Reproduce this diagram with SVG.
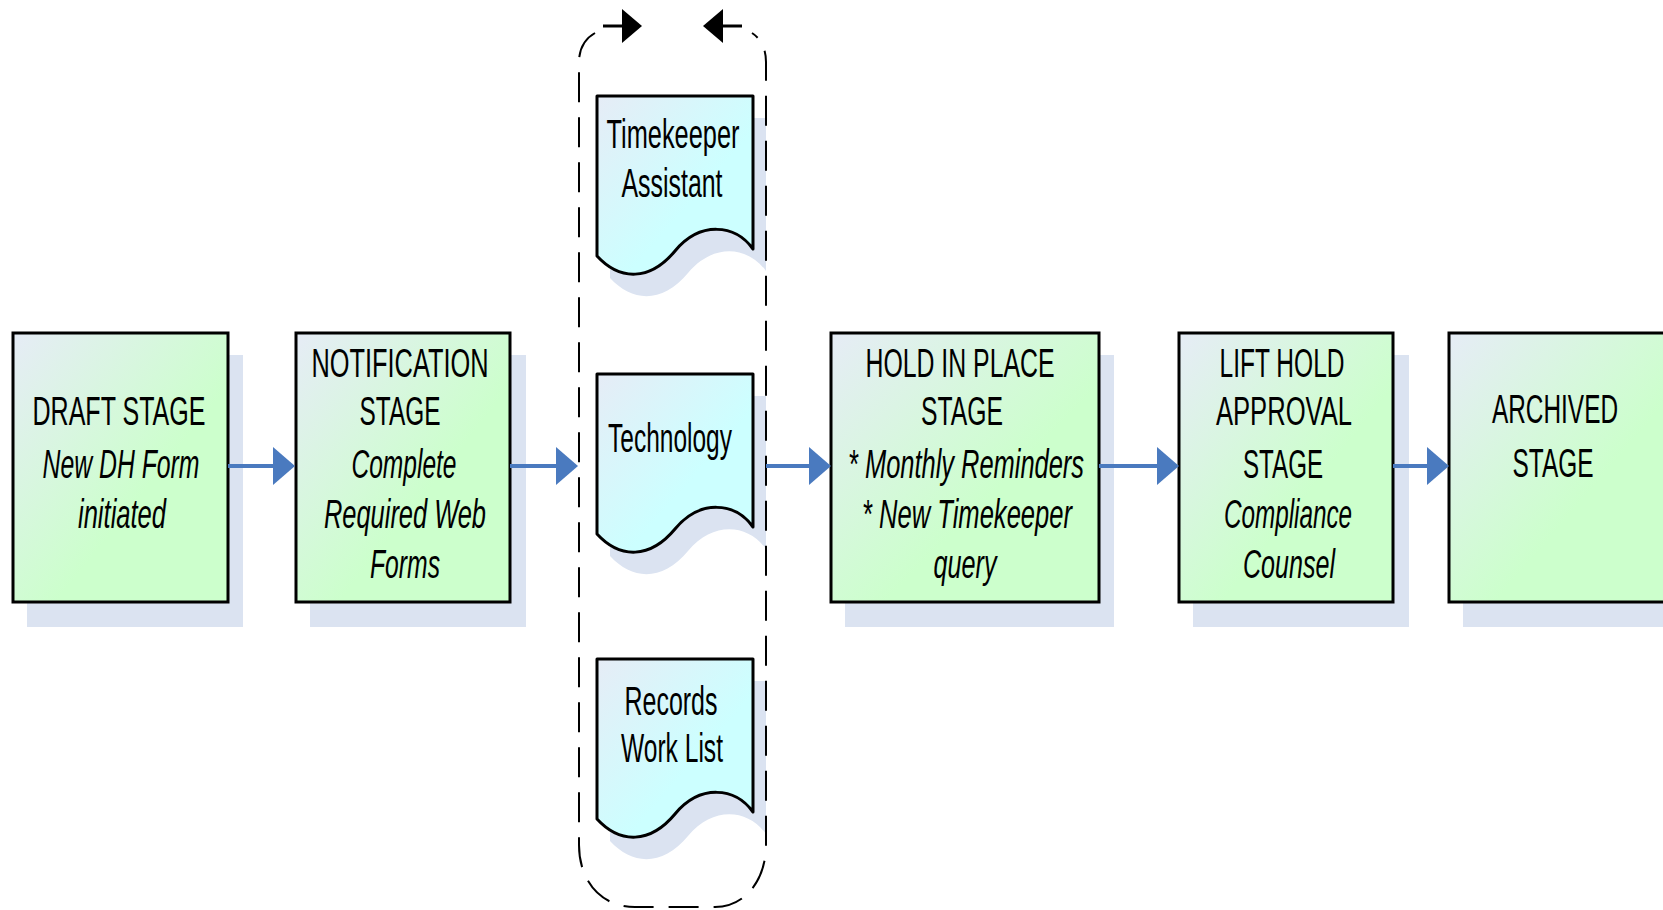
<svg xmlns="http://www.w3.org/2000/svg" width="1663" height="910" viewBox="0 0 1663 910">
<style>
.box{fill:url(#gBox);stroke:#000;stroke-width:3}
.doc{fill:url(#gDoc);stroke:#000;stroke-width:3;stroke-linejoin:round}
.shd{fill:#dbe3f1;stroke:none}
text{font-family:"Liberation Sans",Arial,sans-serif;font-size:40px;fill:#000;text-anchor:middle}
.it{font-style:italic}
.conn{stroke:#4a7abf;stroke-width:4;fill:none}
.blk{stroke:#000;stroke-width:3;fill:none}
.dash{stroke:#000;stroke-width:2;fill:none;stroke-dasharray:30 15}
</style>
<defs>
<linearGradient id="gBox" x1="0" y1="0" x2="1" y2="1">
<stop offset="0" stop-color="#e6ecf6"/>
<stop offset="0.6" stop-color="#ccffcc"/>
<stop offset="1" stop-color="#ccffcc"/>
</linearGradient>
<linearGradient id="gDoc" x1="0" y1="0" x2="1" y2="1">
<stop offset="0" stop-color="#e6ecf6"/>
<stop offset="0.6" stop-color="#ccffff"/>
<stop offset="1" stop-color="#ccffff"/>
</linearGradient>
<marker id="ab" markerUnits="userSpaceOnUse" markerWidth="22" markerHeight="38" refX="0" refY="19" orient="auto" overflow="visible">
<path d="M0,0 L22,19 L0,38 Z" fill="#4a7abf"/>
</marker>
<marker id="ak" markerUnits="userSpaceOnUse" markerWidth="21" markerHeight="34" refX="0" refY="17" orient="auto" overflow="visible">
<path d="M0,0 L20,17 L0,34 Z" fill="#000"/>
</marker>
<path id="docShape" d="M597,0 H753 V153 C735,128 700,125 675,155 C650,185 620,185 597,160 Z"/>
</defs>

<g id="draft">
<rect class="shd" x="27" y="355" width="216" height="272"/>
<rect class="box" x="13" y="333" width="215" height="269"/>
<text x="119" y="425" textLength="173" lengthAdjust="spacingAndGlyphs">DRAFT STAGE</text>
<text class="it" x="121" y="478" textLength="157" lengthAdjust="spacingAndGlyphs">New DH Form</text>
<text class="it" x="122" y="528" textLength="88" lengthAdjust="spacingAndGlyphs">initiated</text>
</g>

<g id="notification">
<rect class="shd" x="310" y="355" width="216" height="272"/>
<rect class="box" x="296" y="333" width="214" height="269"/>
<text x="400" y="377" textLength="177" lengthAdjust="spacingAndGlyphs">NOTIFICATION</text>
<text x="400" y="425" textLength="81" lengthAdjust="spacingAndGlyphs">STAGE</text>
<text class="it" x="404" y="478" textLength="105" lengthAdjust="spacingAndGlyphs">Complete</text>
<text class="it" x="405" y="528" textLength="162" lengthAdjust="spacingAndGlyphs">Required Web</text>
<text class="it" x="405" y="578" textLength="70" lengthAdjust="spacingAndGlyphs">Forms</text>
</g>

<g id="timekeeper">
<use href="#docShape" class="shd" transform="translate(13,118)"/>
<use href="#docShape" class="doc" transform="translate(0,96)"/>
<text x="673" y="148" textLength="133" lengthAdjust="spacingAndGlyphs">Timekeeper</text>
<text x="672" y="197" textLength="101" lengthAdjust="spacingAndGlyphs">Assistant</text>
</g>

<g id="technology">
<use href="#docShape" class="shd" transform="translate(13,396)"/>
<use href="#docShape" class="doc" transform="translate(0,374)"/>
<text x="670" y="452" textLength="124" lengthAdjust="spacingAndGlyphs">Technology</text>
</g>

<g id="records">
<use href="#docShape" class="shd" transform="translate(13,681)"/>
<use href="#docShape" class="doc" transform="translate(0,659)"/>
<text x="671" y="715" textLength="93" lengthAdjust="spacingAndGlyphs">Records</text>
<text x="672" y="762" textLength="102" lengthAdjust="spacingAndGlyphs">Work List</text>
</g>

<g id="loop">
<path class="dash" d="M595,33 C586,38 579,48 579,62 V845 C579,880 600,907 635,907 H715 C745,907 766,880 766,845 V62 C766,48 760,38 752,33"/>
<line class="blk" x1="603" y1="26" x2="622" y2="26" marker-end="url(#ak)"/>
<line class="blk" x1="742" y1="26" x2="723" y2="26" marker-end="url(#ak)"/>
</g>

<g id="hold">
<rect class="shd" x="845" y="355" width="269" height="272"/>
<rect class="box" x="831" y="333" width="268" height="269"/>
<text x="960" y="377" textLength="189" lengthAdjust="spacingAndGlyphs">HOLD IN PLACE</text>
<text x="962" y="425" textLength="82" lengthAdjust="spacingAndGlyphs">STAGE</text>
<text class="it" x="966" y="478" textLength="236" lengthAdjust="spacingAndGlyphs">* Monthly Reminders</text>
<text class="it" x="967" y="528" textLength="210" lengthAdjust="spacingAndGlyphs">* New Timekeeper</text>
<text class="it" x="965" y="578" textLength="63" lengthAdjust="spacingAndGlyphs">query</text>
</g>

<g id="lift">
<rect class="shd" x="1193" y="355" width="216" height="272"/>
<rect class="box" x="1179" y="333" width="214" height="269"/>
<text x="1282" y="377" textLength="125" lengthAdjust="spacingAndGlyphs">LIFT HOLD</text>
<text x="1284" y="425" textLength="136" lengthAdjust="spacingAndGlyphs">APPROVAL</text>
<text x="1283" y="478" textLength="80" lengthAdjust="spacingAndGlyphs">STAGE</text>
<text class="it" x="1288" y="528" textLength="128" lengthAdjust="spacingAndGlyphs">Compliance</text>
<text class="it" x="1289" y="578" textLength="92" lengthAdjust="spacingAndGlyphs">Counsel</text>
</g>

<g id="archived">
<rect class="shd" x="1463" y="355" width="220" height="272"/>
<rect class="box" x="1449" y="333" width="230" height="269"/>
<text x="1555" y="423" textLength="126" lengthAdjust="spacingAndGlyphs">ARCHIVED</text>
<text x="1553" y="477" textLength="81" lengthAdjust="spacingAndGlyphs">STAGE</text>
</g>

<g id="connectors">
<line class="conn" x1="228" y1="466" x2="273" y2="466" marker-end="url(#ab)"/>
<line class="conn" x1="510" y1="466" x2="556" y2="466" marker-end="url(#ab)"/>
<line class="conn" x1="766" y1="466" x2="809" y2="466" marker-end="url(#ab)"/>
<line class="conn" x1="1099" y1="466" x2="1157" y2="466" marker-end="url(#ab)"/>
<line class="conn" x1="1393" y1="466" x2="1427" y2="466" marker-end="url(#ab)"/>
</g>
</svg>
